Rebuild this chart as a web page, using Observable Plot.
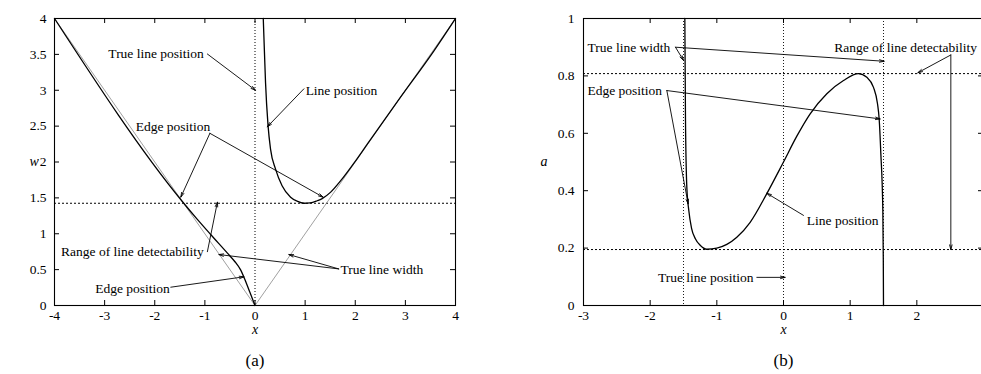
<!DOCTYPE html>
<html><head><meta charset="utf-8">
<script src="https://cdn.jsdelivr.net/npm/d3@7"></script>
<script src="https://cdn.jsdelivr.net/npm/@observablehq/plot@0.6"></script>
<style>
html,body{margin:0;padding:0;background:#fff;overflow:hidden;width:981px;height:374px;}
#wrap{display:flex;width:983px;align-items:flex-start;}
#wrap svg{display:block;}
</style></head><body><div id="wrap"><div id="pa"></div><div id="pb"></div></div>
<script>
const font = "'Liberation Serif','Times New Roman',Times,serif";

// ---------- Panel (a) data ----------
const aXTicks = [-4,-3,-2,-1,0,1,2,3,4];
const aYTicks = [0,0.5,1,1.5,2,2.5,3,3.5,4];
const aLineX = [0.165,0.19,0.21,0.26,0.31,0.41,0.54,0.71,0.85,0.975,1.1,1.24,1.34,1.51,1.71,2.0,2.24,2.9,3.57,4.0];
const aLineW = [4.0,3.5,3.11,2.51,2.18,1.90,1.67,1.51,1.45,1.425,1.43,1.46,1.49,1.58,1.74,2.01,2.25,2.9,3.55,4.0];
const aEdgeX = [-4,-1.45,-1.15,-0.885,-0.55,-0.4,-0.29,-0.2,-0.1,0];
const aEdgeW = [4,1.45,1.2,0.99,0.73,0.61,0.5,0.36,0.18,0];
const aTrueX = [-4,0,4];
const aTrueW = [4,0,4];
const aTruePos = [0];
const aDetect = [1.425];
const aArrows = [
  [-0.95,3.505,0.01,3.0],
  [0.975,3.02,0.245,2.49],
  [-0.9,2.40,-1.48,1.51],
  [-0.9,2.40,1.36,1.51],
  [-0.95,0.75,-0.75,1.44],
  [1.67,0.51,-0.72,0.71],
  [1.67,0.51,0.675,0.71],
  [-1.68,0.255,-0.22,0.40]
];
const aLabelsStart = [
  ["Line position",1.01,2.995],
  ["Edge position",-2.38,2.49],
  ["True line width",1.705,0.497]
];
const aLabelsEnd = [
  ["True line position",-1.02,3.505],
  ["Range of line detectability",-1.02,0.752],
  ["Edge position",-1.70,0.241]
];

// ---------- Panel (b) data ----------
const bXTicks = [-3,-2,-1,0,1,2,3];
const bXLabels = [-3,-2,-1,0,1,2];
const bYTicks = [0,0.2,0.4,0.6,0.8,1];
const bCurveX = [-1.48,-1.47,-1.45,-1.42,-1.38,-1.32,-1.25,-1.15,-1.0,-0.85,-0.7,-0.5,-0.25,0,0.2,0.4,0.65,0.9,1.125,1.25,1.35,1.41,1.435,1.46,1.49,1.497,1.5];
const bCurveA = [1.0,0.645,0.412,0.33,0.27,0.232,0.21,0.196,0.2,0.213,0.238,0.29,0.39,0.5,0.59,0.668,0.738,0.784,0.808,0.795,0.76,0.703,0.65,0.53,0.331,0.157,0];
const bTrueEdges = [-1.5,1.5];
const bTruePos = [0];
const bDetect = [0.195,0.808];
const bArrows = [
  [-1.62,0.90,-1.50,0.854],
  [-1.62,0.90,1.51,0.851],
  [-1.75,0.749,1.45,0.65],
  [-1.75,0.749,-1.43,0.354],
  [0.3,0.314,-0.25,0.391],
  [-0.4,0.098,0.025,0.098],
  [2.51,0.873,2.015,0.811],
  [2.51,0.873,2.51,0.195]
];
const bLabelsStart = [
  ["True line width",-2.94,0.899],
  ["Edge position",-2.94,0.749],
  ["Line position",0.35,0.296],
  ["Range of line detectability",0.76,0.9]
];
const bLabelsEnd = [
  ["True line position",-0.45,0.098]
];

const pts = (xs, ys) => xs.map((x, i) => ({x, y: ys[i]}));
const arr = a => a.map(([x1,y1,x2,y2]) => ({x1,y1,x2,y2}));
const lab = a => a.map(([text,x,y]) => ({text,x,y}));

function panel({width, marginLeft, marginRight, xDomain, yDomain, xTicks, xLabels, yTicks, yLabel, yLabelDx, yPad, caption, data}) {
  const height = 374, marginTop = 18, marginBottom = 69;
  const plotW = width - marginLeft - marginRight;
  const plotH = height - marginTop - marginBottom;
  return Plot.plot({
    width, height, marginLeft, marginRight, marginTop, marginBottom,
    x: {domain: xDomain},
    y: {domain: yDomain},
    style: `font-family: ${font}; font-size: 13px; color: black; background: white; overflow: visible;`,
    marks: [
      ...data,
      Plot.tickX(xTicks, {x: d => d, insetTop: plotH - 5, stroke: "black", strokeWidth: 1}),
      Plot.tickX(xTicks, {x: d => d, insetBottom: plotH - 5, stroke: "black", strokeWidth: 1}),
      Plot.tickY(yTicks, {y: d => d, insetRight: plotW - 5, stroke: "black", strokeWidth: 1}),
      Plot.tickY(yTicks, {y: d => d, insetLeft: plotW - 5, stroke: "black", strokeWidth: 1}),
      Plot.frame({stroke: "black", strokeWidth: 1.1}),
      Plot.axisX(xLabels, {tickSize: 0, tickPadding: 5, tickFormat: d => String(d), label: null, fontSize: 13.5, fontFamily: font}),
      Plot.axisY(yTicks, {tickSize: 0, tickPadding: yPad, tickFormat: d => String(d), label: null, fontSize: 13.5, fontFamily: font}),
      Plot.text(["x"], {frameAnchor: "bottom", dy: 28, fontStyle: "italic", fontSize: 14, fontFamily: font}),
      Plot.text([yLabel], {frameAnchor: "left", dx: yLabelDx, fontStyle: "italic", fontSize: 14, fontFamily: font}),
      Plot.text([caption], {frameAnchor: "bottom", dy: 60, fontSize: 17, fontFamily: font})
    ]
  });
}

const arrowStyle = {x1: "x1", y1: "y1", x2: "x2", y2: "y2", stroke: "black", strokeWidth: 0.9, headLength: 8, headAngle: 30};
const textStyle = {x: "x", y: "y", text: "text", fontSize: 13.5, fontFamily: font};

const dataA = [
  Plot.ruleX(aTruePos, {x: d => d, stroke: "black", strokeWidth: 1, strokeDasharray: "1,2"}),
  Plot.ruleY(aDetect, {y: d => d, stroke: "black", strokeWidth: 1, strokeDasharray: "2,2"}),
  Plot.line(pts(aTrueX, aTrueW), {x: "x", y: "y", stroke: "#777", strokeWidth: 0.7}),
  Plot.line(pts(aEdgeX, aEdgeW), {x: "x", y: "y", stroke: "black", strokeWidth: 1.3, curve: "monotone-x"}),
  Plot.line(pts(aLineX, aLineW), {x: "x", y: "y", stroke: "black", strokeWidth: 1.3, curve: "monotone-x"}),
  Plot.arrow(arr(aArrows), arrowStyle),
  Plot.text(lab(aLabelsStart), {...textStyle, textAnchor: "start"}),
  Plot.text(lab(aLabelsEnd), {...textStyle, textAnchor: "end"})
];

const dataB = [
  Plot.ruleX(bTrueEdges, {x: d => d, stroke: "black", strokeWidth: 0.9, strokeDasharray: "1,2"}),
  Plot.ruleX(bTruePos, {x: d => d, stroke: "black", strokeWidth: 0.9, strokeDasharray: "1,2"}),
  Plot.ruleY(bDetect, {y: d => d, stroke: "black", strokeWidth: 1, strokeDasharray: "2,2"}),
  Plot.line(pts(bCurveX, bCurveA), {x: "x", y: "y", stroke: "black", strokeWidth: 1.3, curve: "monotone-x"}),
  Plot.arrow(arr(bArrows), arrowStyle),
  Plot.text(lab(bLabelsStart), {...textStyle, textAnchor: "start"}),
  Plot.text(lab(bLabelsEnd), {...textStyle, textAnchor: "end"})
];

document.getElementById("pa").append(panel({
  width: 490, marginLeft: 54, marginRight: 35, xDomain: [-4, 4], yDomain: [0, 4],
  xTicks: aXTicks, xLabels: aXTicks, yTicks: aYTicks, yLabel: "w", yLabelDx: -25, yPad: 8, caption: "(a)", data: dataA
}));
document.getElementById("pb").append(panel({
  width: 493, marginLeft: 93, marginRight: 0, xDomain: [-3, 3], yDomain: [0, 1],
  xTicks: bXTicks, xLabels: bXLabels, yTicks: bYTicks, yLabel: "a", yLabelDx: -43, yPad: 9, caption: "(b)", data: dataB
}));
</script>
</body></html>
